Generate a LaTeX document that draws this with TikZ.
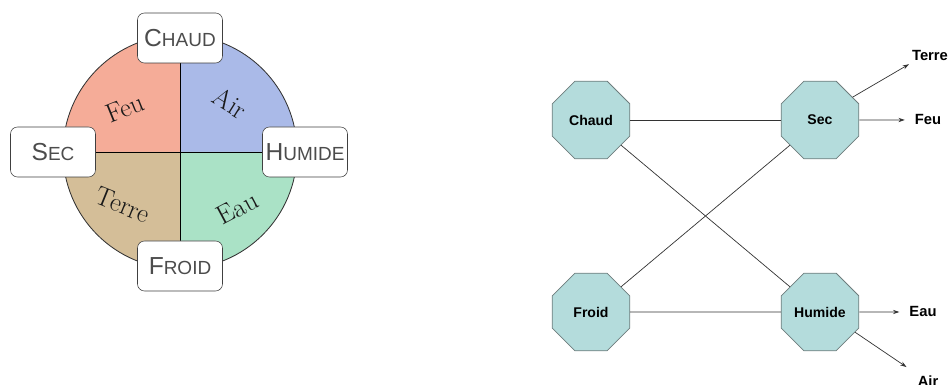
\documentclass[tikz,border=0pt]{standalone}
\usepackage{fontspec}
\newfontfamily\arial{Liberation Sans}
\usetikzlibrary{shapes.geometric,arrows.meta,backgrounds}

\definecolor{feucol}{RGB}{245,172,152}
\definecolor{aircol}{RGB}{170,186,232}
\definecolor{terrecol}{RGB}{212,190,152}
\definecolor{eaucol}{RGB}{170,226,198}
\definecolor{octfill}{RGB}{180,220,220}
\definecolor{octline}{RGB}{110,125,125}

% fake small caps for the qualities
\newcommand{\qual}[2]{{\fontsize{17.5}{17}\selectfont #1}{\fontsize{13.5}{13}\selectfont #2}}

\tikzset{
  quality/.style={draw=black!75, fill=white, rounded corners=5pt,
    minimum width=2.125cm, minimum height=1.25cm, inner sep=1pt,
    text=black!70, font=\arial},
  element/.style={font=\fontsize{19}{19}\selectfont, text=black!90},
  octo/.style={regular polygon, regular polygon sides=8, minimum size=2.1cm,
    inner sep=0pt, fill=octfill, draw=octline, line width=0.6pt,
    font=\arial\bfseries\fontsize{10}{12}\selectfont},
  outlabel/.style={font=\arial\bfseries\fontsize{10.5}{12}\selectfont, inner sep=2pt},
  conn/.style={draw=black!80, line width=0.5pt},
  arr/.style={conn, -{Stealth[length=4.5pt,width=3pt]}},
}

\begin{document}
\begin{tikzpicture}[x=0.025cm, y=0.025cm]
\useasboundingbox (0,0) rectangle (948,385);

% (left) circle of the elements
\coordinate (c) at (180,233);
\node[quality] (hot)  at (180,347) {\qual{C}{HAUD}};
\node[quality] (cold) at (180,119) {\qual{F}{ROID}};
\node[quality] (dry)  at (53,233)  {\qual{S}{EC}};
\node[quality] (wet)  at (305,233) {\qual{H}{UMIDE}};

\begin{scope}[on background layer]
\fill[feucol]   (c) -- ++(-2.925cm,0) arc[start angle=180, end angle=90,  radius=2.925cm] -- cycle;
\fill[aircol]   (c) -- ++(0,2.925cm)  arc[start angle=90,  end angle=0,   radius=2.925cm] -- cycle;
\fill[eaucol]   (c) -- ++(2.925cm,0)  arc[start angle=0,   end angle=-90, radius=2.925cm] -- cycle;
\fill[terrecol] (c) -- ++(0,-2.925cm) arc[start angle=270, end angle=180, radius=2.925cm] -- cycle;
\draw[line width=0.6pt, black!80] (c) circle[radius=2.925cm];
\draw[line width=0.6pt] (hot) -- (cold) (dry) -- (wet);
\end{scope}

\node[element, rotate=22]  (lfeu)   at (125,277) {Feu};
\node[element, rotate=-32] (lair)   at (230,282) {Air};
\node[element, rotate=-22] (lterre) at (123,180) {Terre};
\node[element, rotate=28]  (leau)   at (237,177) {Eau};

% (right) qualities to elements
\node[octo] (chaud)  at (591,265) {Chaud};
\node[octo] (sec)    at (820,265) {Sec};
\node[octo] (froid)  at (591,73)  {Froid};
\node[octo] (humide) at (820,73)  {Humide};

\node[outlabel] (terre) at (930,329) {Terre};
\node[outlabel] (feu)   at (928,265) {Feu};
\node[outlabel] (eau)   at (923,73)  {Eau};
\node[outlabel] (air)   at (928,4)   {Air};

\draw[conn] (chaud) -- (sec);
\draw[conn] (froid) -- (humide);
\draw[conn] (chaud) -- (humide);
\draw[conn] (froid) -- (sec);

\draw[arr] (sec.35) -- (terre.south west);
\draw[arr, shorten >=5pt] (sec) -- (feu);
\draw[arr, shorten >=5pt] (humide) -- (eau);
\draw[arr, shorten >=7pt] (humide.-30) -- (air.north west);

\end{tikzpicture}
\end{document}
